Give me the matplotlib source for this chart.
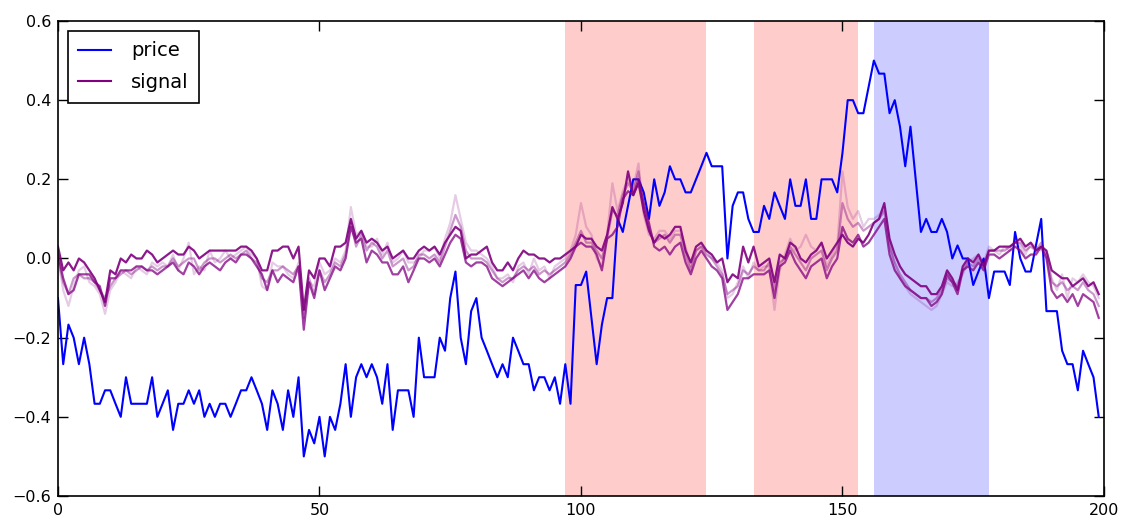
import matplotlib
matplotlib.use("Agg")
import matplotlib.pyplot as plt
import numpy as np

price = [
    -0.1, -0.267, -0.167, -0.2, -0.267, -0.2, -0.267, -0.367, -0.367, -0.333,
    -0.333, -0.367, -0.4, -0.3, -0.367, -0.367, -0.367, -0.367, -0.3, -0.4,
    -0.367, -0.333, -0.433, -0.367, -0.367, -0.333, -0.367, -0.333, -0.4, -0.367,
    -0.4, -0.367, -0.367, -0.4, -0.367, -0.333, -0.333, -0.3, -0.333, -0.367,
    -0.433, -0.333, -0.367, -0.433, -0.333, -0.4, -0.3, -0.5, -0.433, -0.467,
    -0.4, -0.5, -0.4, -0.433, -0.367, -0.267, -0.4, -0.3, -0.267, -0.3,
    -0.267, -0.3, -0.367, -0.267, -0.433, -0.333, -0.333, -0.333, -0.4, -0.2,
    -0.3, -0.3, -0.3, -0.2, -0.233, -0.1, -0.033, -0.2, -0.267, -0.133,
    -0.1, -0.2, -0.233, -0.267, -0.3, -0.267, -0.3, -0.2, -0.233, -0.267,
    -0.267, -0.333, -0.3, -0.3, -0.333, -0.3, -0.367, -0.267, -0.367, -0.067,
    -0.067, -0.033, -0.15, -0.267, -0.167, -0.1, -0.1, 0.1, 0.067, 0.133,
    0.2, 0.2, 0.167, 0.1, 0.2, 0.133, 0.167, 0.233, 0.2, 0.2,
    0.167, 0.167, 0.2, 0.233, 0.267, 0.233, 0.233, 0.233, 0.0, 0.133,
    0.167, 0.167, 0.1, 0.067, 0.067, 0.133, 0.1, 0.167, 0.133, 0.1,
    0.2, 0.133, 0.133, 0.2, 0.1, 0.1, 0.2, 0.2, 0.2, 0.167,
    0.267, 0.4, 0.4, 0.367, 0.367, 0.433, 0.5, 0.467, 0.467, 0.367,
    0.4, 0.333, 0.233, 0.333, 0.2, 0.067, 0.1, 0.067, 0.067, 0.1,
    0.067, 0.0, 0.033, 0.0, 0.0, -0.067, -0.033, 0.0, -0.1, -0.033,
    -0.033, -0.033, -0.067, 0.067, 0.0, -0.033, -0.033, 0.033, 0.1, -0.133,
    -0.133, -0.133, -0.233, -0.267, -0.267, -0.333, -0.233, -0.267, -0.3, -0.4,
]

signal_upper = [
    0.03, -0.03, -0.01, -0.03, 0.0, -0.01, -0.03, -0.05, -0.08, -0.11,
    -0.03, -0.04, 0.0, -0.01, 0.01, 0.0, 0.0, 0.02, 0.01, -0.01,
    0.0, 0.01, 0.02, 0.01, 0.01, 0.03, 0.02, 0.0, 0.01, 0.02,
    0.02, 0.02, 0.02, 0.02, 0.02, 0.03, 0.03, 0.02, 0.0, -0.03,
    -0.03, 0.02, 0.02, 0.03, 0.03, 0.0, 0.03, -0.13, -0.03, -0.05,
    0.0, 0.0, -0.02, 0.03, 0.03, 0.04, 0.1, 0.05, 0.07, 0.04,
    0.05, 0.04, 0.02, 0.03, 0.0, 0.01, 0.02, 0.0, 0.0, 0.02,
    0.03, 0.02, 0.03, 0.01, 0.04, 0.06, 0.08, 0.07, 0.0, 0.01,
    0.01, 0.02, 0.03, -0.01, -0.03, -0.03, -0.01, -0.03, 0.0, 0.02,
    0.01, 0.01, 0.0, 0.0, -0.01, 0.0, 0.0, 0.01, 0.02, 0.03,
    0.06, 0.05, 0.05, 0.03, 0.02, 0.06, 0.13, 0.1, 0.14, 0.22,
    0.16, 0.19, 0.12, 0.07, 0.04, 0.06, 0.05, 0.06, 0.08, 0.08,
    0.02, -0.01, 0.03, 0.04, 0.02, 0.01, -0.01, 0.0, -0.06, -0.04,
    -0.05, 0.03, -0.01, 0.03, -0.02, -0.01, 0.0, -0.06, 0.01, 0.0,
    0.04, 0.03, 0.0, -0.01, 0.01, 0.02, 0.04, 0.0, 0.02, 0.04,
    0.06, 0.04, 0.03, 0.05, 0.04, 0.06, 0.09, 0.1, 0.14, 0.05,
    0.01, -0.02, -0.04, -0.05, -0.06, -0.07, -0.07, -0.09, -0.09, -0.07,
    -0.03, -0.05, -0.08, -0.02, 0.0, -0.01, 0.01, -0.02, 0.02, 0.02,
    0.03, 0.03, 0.03, 0.04, 0.05, 0.03, 0.04, 0.02, 0.03, 0.02,
    -0.03, -0.04, -0.05, -0.05, -0.07, -0.06, -0.05, -0.07, -0.06, -0.09,
]

signal_lower = [
    0.01, -0.05, -0.09, -0.08, -0.04, -0.04, -0.04, -0.06, -0.07, -0.12,
    -0.05, -0.05, -0.03, -0.03, -0.03, -0.02, -0.02, -0.03, -0.03, -0.04,
    -0.03, -0.02, -0.01, -0.03, -0.04, -0.01, -0.02, -0.04, -0.02, -0.01,
    -0.02, -0.03, -0.01, 0.0, -0.01, 0.01, 0.01, 0.0, -0.02, -0.04,
    -0.08, -0.03, -0.06, -0.04, -0.05, -0.06, -0.02, -0.18, -0.06, -0.1,
    -0.03, -0.08, -0.05, -0.02, -0.03, 0.0, 0.08, 0.04, 0.05, -0.01,
    0.02, 0.01, -0.01, -0.01, -0.04, -0.04, -0.02, -0.06, -0.03, 0.0,
    0.0, -0.01, 0.0, -0.02, 0.01, 0.04, 0.06, 0.05, -0.01, -0.02,
    -0.01, -0.01, -0.02, -0.05, -0.06, -0.07, -0.06, -0.05, -0.04, -0.03,
    -0.05, -0.03, -0.05, -0.06, -0.05, -0.04, -0.03, -0.02, 0.0, 0.03,
    0.04, 0.03, 0.03, 0.01, -0.03, 0.05, 0.06, 0.08, 0.15, 0.17,
    0.16, 0.2, 0.14, 0.09, 0.03, 0.02, 0.03, 0.01, 0.03, 0.04,
    -0.01, -0.04, 0.0, 0.02, 0.0, -0.02, -0.03, -0.05, -0.13, -0.11,
    -0.09, -0.05, -0.05, -0.04, -0.04, -0.04, -0.03, -0.1, -0.02, -0.01,
    0.02, -0.01, -0.03, -0.05, -0.02, -0.01, 0.0, -0.05, -0.02, 0.0,
    0.08, 0.05, 0.04, 0.06, 0.03, 0.04, 0.06, 0.08, 0.1, 0.01,
    -0.03, -0.05, -0.07, -0.08, -0.09, -0.1, -0.1, -0.12, -0.11, -0.09,
    -0.04, -0.06, -0.09, -0.03, -0.02, -0.03, -0.01, -0.03, 0.01, 0.01,
    0.0, 0.01, 0.02, 0.03, 0.02, 0.0, 0.01, 0.01, 0.03, 0.0,
    -0.08, -0.1, -0.09, -0.11, -0.09, -0.12, -0.09, -0.1, -0.11, -0.15,
]

signal_medium = [
    0.0, -0.06, -0.09, -0.05, -0.04, -0.05, -0.05, -0.06, -0.08, -0.1,
    -0.07, -0.05, -0.04, -0.03, -0.04, -0.03, -0.02, -0.03, -0.02, -0.03,
    -0.02, -0.02, 0.0, -0.02, -0.01, 0.0, 0.0, -0.03, -0.01, 0.0,
    0.0, -0.01, 0.0, 0.01, 0.0, 0.01, 0.02, 0.0, -0.01, -0.05,
    -0.06, -0.03, -0.03, -0.02, -0.03, -0.04, -0.02, -0.15, -0.05, -0.09,
    -0.03, -0.06, -0.04, -0.01, -0.02, 0.01, 0.09, 0.03, 0.06, 0.02,
    0.04, 0.03, 0.0, 0.02, -0.02, -0.01, 0.0, -0.03, -0.02, 0.01,
    0.01, 0.0, 0.01, -0.01, 0.03, 0.07, 0.11, 0.08, 0.02, 0.0,
    0.0, 0.0, -0.01, -0.03, -0.05, -0.06, -0.05, -0.05, -0.03, -0.02,
    -0.03, -0.02, -0.04, -0.03, -0.04, -0.03, -0.02, -0.01, 0.01, 0.04,
    0.07, 0.04, 0.04, 0.02, 0.0, 0.05, 0.12, 0.11, 0.16, 0.19,
    0.17, 0.22, 0.13, 0.08, 0.04, 0.05, 0.06, 0.04, 0.06, 0.06,
    0.01, -0.03, 0.02, 0.03, 0.01, 0.0, -0.02, -0.04, -0.09, -0.08,
    -0.07, -0.03, -0.04, -0.02, -0.03, -0.03, -0.01, -0.08, -0.01, 0.0,
    0.03, 0.01, -0.01, -0.03, 0.0, 0.01, 0.02, -0.03, 0.0, 0.02,
    0.14, 0.1, 0.08, 0.09, 0.07, 0.08, 0.09, 0.1, 0.12, 0.03,
    -0.01, -0.04, -0.06, -0.08, -0.09, -0.1, -0.1, -0.11, -0.1, -0.08,
    -0.05, -0.06, -0.07, -0.03, -0.01, -0.02, 0.0, -0.02, 0.02, 0.02,
    0.02, 0.02, 0.03, 0.04, 0.04, 0.02, 0.03, 0.02, 0.04, 0.01,
    -0.06, -0.07, -0.06, -0.08, -0.07, -0.08, -0.06, -0.08, -0.09, -0.12,
]

signal_light = [
    0.0, -0.08, -0.12, -0.07, -0.03, -0.02, -0.06, -0.07, -0.09, -0.14,
    -0.08, -0.06, -0.03, -0.04, -0.05, -0.02, -0.03, -0.04, -0.01, -0.02,
    -0.01, -0.02, 0.01, -0.03, 0.0, 0.04, -0.04, -0.02, -0.03, 0.02,
    -0.01, 0.0, 0.02, 0.0, 0.01, 0.02, 0.03, 0.01, 0.0, -0.07,
    -0.08, -0.01, -0.02, -0.02, -0.04, -0.05, -0.01, -0.14, -0.06, -0.07,
    -0.01, -0.04, -0.03, 0.0, -0.01, 0.02, 0.13, 0.06, 0.07, 0.03,
    0.03, 0.05, 0.01, 0.04, -0.01, 0.0, 0.02, -0.01, -0.01, 0.0,
    0.02, 0.02, 0.03, 0.0, 0.05, 0.09, 0.16, 0.1, 0.04, 0.02,
    0.02, 0.01, 0.0, -0.02, -0.05, -0.05, -0.04, -0.06, -0.02, -0.01,
    -0.04, 0.0, -0.03, -0.02, -0.05, -0.02, -0.01, 0.0, 0.02, 0.06,
    0.14, 0.08, 0.06, 0.0, -0.02, 0.06, 0.19, 0.12, 0.17, 0.2,
    0.18, 0.24, 0.11, 0.06, 0.05, 0.07, 0.07, 0.05, 0.07, 0.07,
    0.03, -0.02, 0.02, 0.03, 0.02, 0.0, -0.01, -0.03, -0.1, -0.09,
    -0.06, -0.02, -0.05, -0.01, -0.03, -0.02, -0.02, -0.13, -0.03, 0.01,
    0.05, 0.02, 0.03, 0.06, 0.03, 0.02, 0.04, -0.02, 0.01, 0.03,
    0.22, 0.13, 0.1, 0.12, 0.08, 0.1, 0.1, 0.11, 0.13, 0.04,
    -0.02, -0.05, -0.07, -0.09, -0.1, -0.11, -0.12, -0.13, -0.12, -0.09,
    -0.06, -0.07, -0.06, -0.04, -0.01, 0.0, 0.01, -0.01, 0.03, 0.02,
    0.01, 0.03, 0.02, 0.05, 0.03, 0.01, 0.04, 0.03, 0.02, 0.01,
    -0.05, -0.08, -0.04, -0.1, -0.05, -0.06, -0.04, -0.06, -0.07, -0.1,
]

signals = [signal_light, signal_medium, signal_lower, signal_upper]
signal_alphas = [0.2, 0.4, 0.75, 0.9]

buy_spans = [(97, 124), (133, 153)]
sell_spans = [(156, 178)]

x = np.arange(len(price))

fig = plt.figure(figsize=(11.28, 5.22), dpi=100)
ax = fig.add_axes([0.0514, 0.0498, 0.9273, 0.91])

for a, b in buy_spans:
    ax.axvspan(a, b, color='red', alpha=0.2, lw=0)
for a, b in sell_spans:
    ax.axvspan(a, b, color='blue', alpha=0.2, lw=0)

ax.plot(x, price, color='blue', lw=1.5, label='price')
for s, al in zip(signals, signal_alphas):
    ax.plot(x, s, color='purple', lw=1.6, alpha=al)
ax.plot([], [], color='purple', lw=1.5, label='signal')

ax.set_xlim(0, 200)
ax.set_ylim(-0.6, 0.6)
ax.set_xticks([0, 50, 100, 150, 200])
ax.set_yticks([-0.6, -0.4, -0.2, 0.0, 0.2, 0.4, 0.6])
ax.tick_params(direction='in', top=True, right=True, length=7, width=1,
               labelsize=11.5, pad=5)
for sp in ax.spines.values():
    sp.set_linewidth(1.2)

leg = ax.legend(loc='upper left', fontsize=14, fancybox=False, framealpha=1,
                edgecolor='black', borderpad=0.55, handlelength=1.7,
                handletextpad=1.0, labelspacing=0.65, borderaxespad=0.5)
leg.get_frame().set_linewidth(1.2)

fig.savefig('out.png', dpi=100)
